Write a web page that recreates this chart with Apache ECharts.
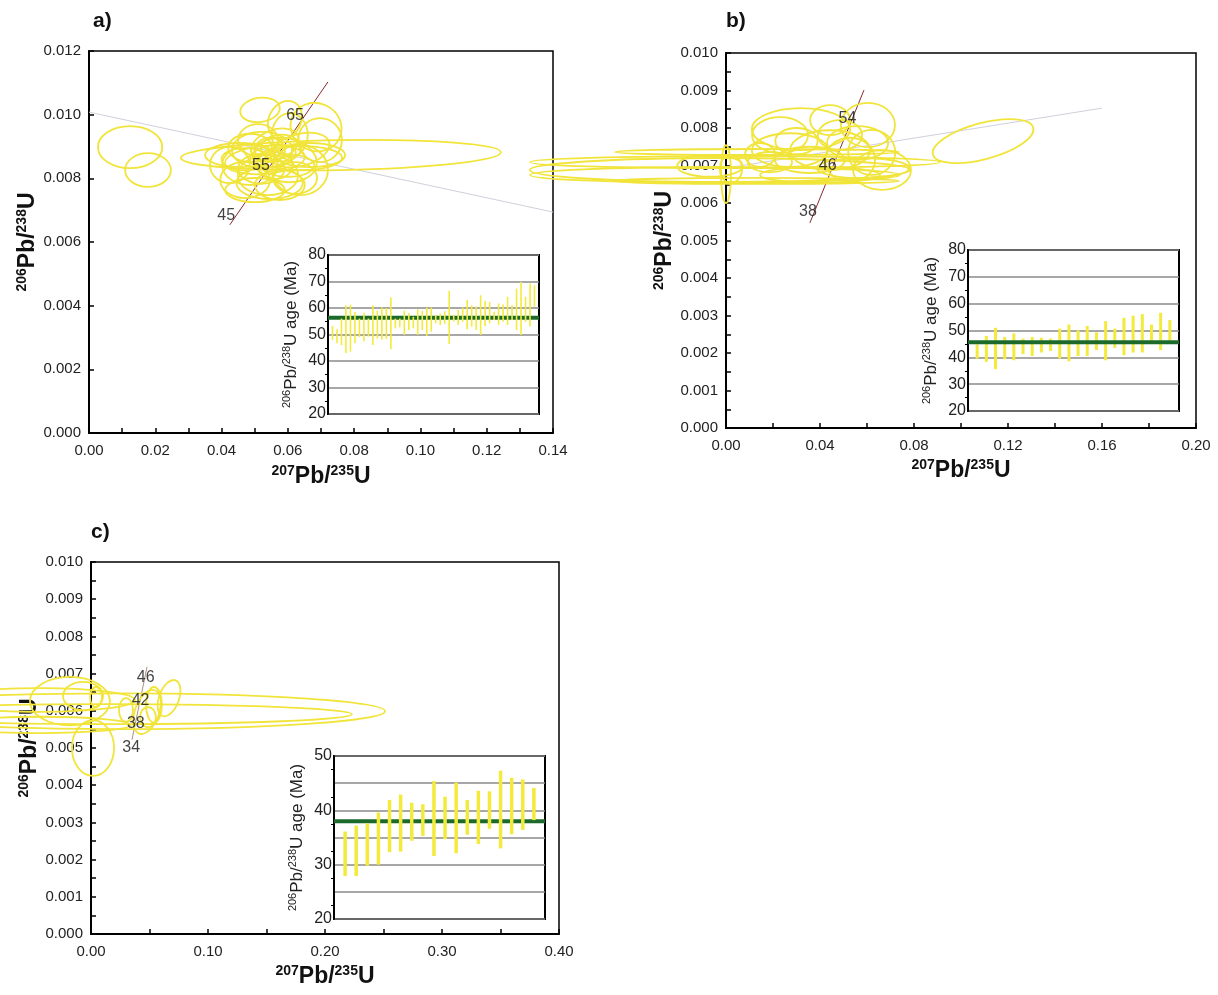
<!DOCTYPE html>
<html><head><meta charset="utf-8">
<script src="https://cdn.jsdelivr.net/npm/echarts@6/dist/echarts.min.js"></script>
<style>html,body{margin:0;padding:0;background:#fff}#c{width:1218px;height:995px}</style>
</head><body><div id="c"></div>
<script>
// ---------- DATA ----------
// ellipses: [x centre (207Pb/235U), y centre (206Pb/238U), x semi-axis, y semi-axis, tilt deg]
const ellipsesA = [
  [0.0124,0.00898,0.0097,0.00066,0],[0.0178,0.00826,0.0069,0.00053,0],
  [0.0760,0.00873,0.0483,0.00047,1],[0.0516,0.01015,0.0060,0.00038,8],
  [0.0685,0.00961,0.0078,0.00075,-25],[0.0522,0.00889,0.0091,0.00057,0],
  [0.0561,0.00905,0.0075,0.00047,20],[0.0486,0.00842,0.0084,0.00063,0],
  [0.0591,0.00858,0.0097,0.00069,-10],[0.0540,0.00810,0.0091,0.00063,0],
  [0.0456,0.00873,0.0106,0.00038,0],[0.0637,0.00889,0.0091,0.00050,15],
  [0.0510,0.00920,0.0060,0.00050,0],[0.0576,0.00779,0.0075,0.00047,0],
  [0.0471,0.00795,0.0075,0.00057,0],[0.0637,0.00826,0.0084,0.00079,0],
  [0.0531,0.00858,0.0121,0.00044,5],[0.0606,0.00936,0.0054,0.00069,0],
  [0.0425,0.00842,0.0060,0.00057,0],[0.0667,0.00873,0.0106,0.00038,0],
  [0.0501,0.00763,0.0090,0.00038,0],[0.0546,0.00889,0.0045,0.00038,0],
  [0.0561,0.00842,0.0054,0.00044,0],[0.0591,0.00983,0.0048,0.00063,-30],
  [0.0697,0.00920,0.0066,0.00069,0],[0.0486,0.00896,0.0066,0.00044,0],
  [0.0622,0.00801,0.0066,0.00050,0],[0.0637,0.00864,0.0127,0.00038,0],
  [0.0555,0.00870,0.0070,0.00035,10],[0.0580,0.00895,0.0060,0.00042,0],
  [0.0520,0.00830,0.0070,0.00047,0],[0.0600,0.00840,0.0080,0.00035,0],
  [0.0545,0.00785,0.0100,0.00050,0],[0.0470,0.00860,0.0070,0.00035,0]
];
const ellipsesB = [
  [0.1094,0.00765,0.0221,0.00048,15],[0.0319,0.00797,0.0209,0.00056,0],
  [0.0230,0.00781,0.0119,0.00048,0],[0.0443,0.00821,0.0085,0.00040,0],
  [0.0604,0.00808,0.0115,0.00059,0],[0.0664,0.00688,0.0123,0.00053,0],
  [0.0583,0.00693,0.0196,0.00027,0],[0.0443,0.00741,0.0170,0.00053,0],
  [0.0272,0.00741,0.0162,0.00045,0],[0.0357,0.00715,0.0149,0.00035,0],
  [0.0145,0.00728,0.0064,0.00032,0],[0.0187,0.00709,0.0094,0.00027,0],
  [0.0528,0.00715,0.0106,0.00059,0],[0.0485,0.00781,0.0094,0.00040,0],
  [0.0400,0.00675,0.0255,0.00021,0],[0.0000,0.00677,0.0021,0.00077,0],
  [0.0021,0.00691,0.0047,0.00037,0],[-0.0068,0.00699,0.0140,0.00029,0],
  [-0.0026,0.00688,0.0809,0.00032,0],[-0.0047,0.00675,0.0787,0.00021,0],
  [0.0038,0.00709,0.0872,0.00016,0],[0.0132,0.00736,0.0604,0.00008,0],
  [0.0132,0.00659,0.0604,0.00008,0],[0.0560,0.00760,0.0130,0.00045,0],
  [0.0300,0.00765,0.0090,0.00035,0],[0.0620,0.00735,0.0100,0.00060,0]
];
const ellipsesC = [
  [0.0248,0.00599,0.2265,0.00048,0],[0.0162,0.00591,0.2068,0.00027,0],
  [-0.0180,0.00626,0.0342,0.00065,0],[-0.0068,0.00640,0.0171,0.00038,0],
  [0.0043,0.00637,0.0051,0.00027,0],[0.0017,0.00500,0.0180,0.00075,0],
  [0.0299,0.00602,0.0060,0.00032,0],[0.0479,0.00597,0.0103,0.00062,-20],
  [0.0538,0.00616,0.0068,0.00048,0],[0.0667,0.00634,0.0085,0.00051,-20],
  [0.0487,0.00583,0.0068,0.00027,0],[-0.0436,0.00629,0.0812,0.00032,0],
  [-0.0436,0.00562,0.0770,0.00022,0]
];
// concordia curves and age labels (Ma)
const concordiaA = [[0.0425,0.00654],[0.0721,0.01103]];
const concordiaB = [[0.0357,0.00547],[0.0587,0.00901]];
const concordiaC = [[0.0350,0.00522],[0.0479,0.00718]];
const ageMarksA = [[0.0456,0.00700,'45'],[0.0561,0.00857,'55'],[0.0664,0.01012,'65']];
const ageMarksB = [[0.0383,0.00593,'38'],[0.0467,0.00716,'46'],[0.0551,0.00840,'54']];
const ageMarksC = [[0.0344,0.00528,'34'],[0.0383,0.00593,'38'],[0.0424,0.00655,'42'],[0.0467,0.00716,'46']];
// regression (discordia) lines
const discordiaA = [[0,0.01008],[0.14,0.00694]];
const discordiaB = [[0,0.00693],[0.16,0.00853]];
// inset ages: lower and upper error-bar ends (Ma), weighted mean
const insetA_lo = [48.0,46.7,46.0,43.0,43.5,46.7,49.0,47.5,49.2,46.0,48.5,48.0,48.3,44.4,52.3,52.7,49.8,51.7,52.3,49.8,51.7,49.4,51.1,54.2,53.6,54.0,46.4,54.9,53.6,54.8,52.0,53.0,51.7,49.8,53.2,54.2,55.4,53.6,54.8,53.6,55.4,51.7,49.8,54.8,53.0,60.5];
const insetA_hi = [53.2,52.0,56.0,61.0,61.3,58.6,56.0,58.2,56.0,61.0,59.0,60.2,60.0,64.0,56.0,56.0,59.0,58.0,56.7,59.5,58.9,60.2,60.2,57.3,57.9,58.8,66.5,57.3,59.2,60.2,63.0,61.0,60.6,64.8,62.6,62.3,58.6,61.7,61.3,64.2,61.0,67.3,69.9,64.2,69.2,68.6];
const meanA = 56.3;
const insetB_lo = [39.5,38.3,35.6,39.3,38.9,41.2,40.5,41.8,42.4,39.5,38.5,40.5,40.5,42.7,38.9,43.5,40.8,41.8,41.8,46.1,42.7,46.0];
const insetB_hi = [44.8,48.0,51.0,47.6,48.9,47.0,47.6,47.3,47.0,50.7,52.2,50.1,51.7,49.3,53.5,50.7,54.7,55.5,56.1,52.2,56.6,53.9];
const meanB = 45.6;
const insetC_lo = [27.9,27.9,29.8,30.0,32.3,32.4,34.4,35.3,31.6,34.7,32.1,35.5,33.8,36.6,33.0,35.6,36.4,38.2];
const insetC_hi = [36.1,37.2,37.6,39.6,41.9,42.9,41.4,41.1,45.4,42.5,45.1,41.9,43.6,43.5,47.3,46.0,45.7,44.1];
const meanC = 38.0;
// axis tick values
const ticksAx = [0,0.02,0.04,0.06,0.08,0.10,0.12,0.14];
const ticksAy = [0,0.002,0.004,0.006,0.008,0.010,0.012];
const ticksBx = [0,0.04,0.08,0.12,0.16,0.20];
const ticksBy = [0,0.001,0.002,0.003,0.004,0.005,0.006,0.007,0.008,0.009,0.010];
const ticksCx = [0,0.10,0.20,0.30,0.40];
const ticksCy = [0,0.001,0.002,0.003,0.004,0.005,0.006,0.007,0.008,0.009,0.010];
const ticksInsetAB = [20,30,40,50,60,70,80];
const ticksInsetC = [20,25,30,35,40,45,50];
const panelTitles = ['a)','b)','c)'];

// ---------- STYLE / BUILD ----------
const FONT = 'Liberation Sans, Arial, Helvetica, sans-serif';
const YELLOW = '#f1e43a';
const BARY = '#f3ea3c';
const GREEN = '#1b6a2c';
const chart = echarts.init(document.getElementById('c'));

const xName = '{sup|207}{b|Pb/}{sup|235}{b|U}';
const yName = '{sup|206}{b|Pb/}{sup|238}{b|U}';
const mainNameStyle = {rich:{
  b:{fontSize:23,fontWeight:'bold',fontFamily:FONT,color:'#111',lineHeight:26},
  sup:{fontSize:14,fontWeight:'bold',fontFamily:FONT,color:'#111',lineHeight:14,verticalAlign:'top'}
}};
const insetName = '{sup|206}{b|Pb/}{sup|238}{b|U age (Ma)}';
const insetNameStyle = {rich:{
  b:{fontSize:17,fontFamily:FONT,color:'#222',lineHeight:20},
  sup:{fontSize:11,fontFamily:FONT,color:'#222',lineHeight:11,verticalAlign:'top'}
}};

const grids = [
  {left:89,top:51,width:464,height:382},
  {left:328,top:255,width:211,height:159},
  {left:726,top:53,width:470,height:375},
  {left:968,top:250,width:211,height:161},
  {left:91,top:562,width:468,height:372},
  {left:334,top:756,width:211,height:163}
].map((g,i)=>Object.assign(g,{show:true,borderColor:'#000',borderWidth:i%2?2:1.5,
  backgroundColor:i%2?'#fff':'transparent',z:i%2?5:0}));

function mainX(gi,ticks,dec,minor,gap){
  return {type:'value',gridIndex:gi,min:ticks[0],max:ticks[ticks.length-1],interval:ticks[1]-ticks[0],
    name:xName,nameLocation:'middle',nameGap:gap,nameTextStyle:mainNameStyle,
    axisLine:{show:true,lineStyle:{color:'#000',width:2}},
    axisTick:{show:true,inside:true,length:5,lineStyle:{color:'#000',width:1.5}},
    minorTick:{show:minor,splitNumber:2,length:5,lineStyle:{color:'#000',width:1.5}},
    axisLabel:{fontSize:15,fontFamily:FONT,color:'#222',margin:10,formatter:v=>v.toFixed(dec),showMinLabel:true,showMaxLabel:true},
    splitLine:{show:false}};
}
function mainY(gi,ticks,minor){
  return {type:'value',gridIndex:gi,min:ticks[0],max:ticks[ticks.length-1],interval:ticks[1]-ticks[0],
    name:yName,nameLocation:'middle',nameGap:43,nameTextStyle:mainNameStyle,
    axisLine:{show:true,lineStyle:{color:'#000',width:2}},
    axisTick:{show:true,inside:true,length:5,lineStyle:{color:'#000',width:1.5}},
    minorTick:{show:minor,splitNumber:2,length:5,lineStyle:{color:'#000',width:1.5}},
    axisLabel:{fontSize:15,fontFamily:FONT,color:'#222',margin:8,formatter:v=>v.toFixed(3),showMinLabel:true,showMaxLabel:true},
    splitLine:{show:false}};
}
function insetX(gi,n){
  return {type:'value',gridIndex:gi,min:0,max:n+1,show:false,splitLine:{show:false}};
}
function insetY(gi,ticks,every){
  return {type:'value',gridIndex:gi,min:ticks[0],max:ticks[ticks.length-1],interval:ticks[1]-ticks[0],
    name:insetName,nameLocation:'middle',nameGap:27,nameTextStyle:insetNameStyle,
    axisLine:{show:true,lineStyle:{color:'#000',width:2}},
    axisTick:{show:false},
    minorTick:{show:true,splitNumber:2,length:3,lineStyle:{color:'#000',width:1}},
    axisLabel:{fontSize:16,fontFamily:FONT,color:'#222',margin:2,formatter:v=>(v%every===0?String(v):''),showMinLabel:true,showMaxLabel:true},
    splitLine:{show:true,lineStyle:{color:'#8a8a8a',width:1.5}},
    z:6};
}

function ellipseSeries(gi,data){
  return {type:'custom',xAxisIndex:gi,yAxisIndex:gi,data:data,clip:false,z:3,silent:true,
    renderItem:function(params,api){
      const c = api.coord([api.value(0),api.value(1)]);
      const s = api.size([api.value(2),api.value(3)]);
      return {type:'ellipse',x:c[0],y:c[1],rotation:api.value(4)*Math.PI/180,
        shape:{cx:0,cy:0,rx:Math.abs(s[0]),ry:Math.abs(s[1])},
        style:{fill:'none',stroke:YELLOW,lineWidth:1.8}};
    }};
}
function lineSeries(gi,data,color,w,z){
  return {type:'line',xAxisIndex:gi,yAxisIndex:gi,data:data,showSymbol:false,symbol:'none',silent:true,
    lineStyle:{color:color,width:w},z:z,clip:false};
}
function labelSeries(gi,data,offset){
  return {type:'scatter',xAxisIndex:gi,yAxisIndex:gi,data:data,symbolSize:0,silent:true,z:6,
    label:{show:true,position:'inside',offset:offset,formatter:p=>p.data[2],fontSize:16,fontFamily:FONT,color:'#111'}};
}
function barSeries(gi,lo,hi,w,z){
  return {type:'custom',xAxisIndex:gi,yAxisIndex:gi,z:z,silent:true,
    data:lo.map((v,i)=>[i+1,v,hi[i]]),
    renderItem:function(params,api){
      const t = api.coord([api.value(0),api.value(2)]);
      const b = api.coord([api.value(0),api.value(1)]);
      return {type:'rect',shape:{x:t[0]-w/2,y:t[1],width:w,height:b[1]-t[1]},style:{fill:BARY}};
    }};
}
function meanSeries(gi,n,m,z){
  return {type:'line',xAxisIndex:gi,yAxisIndex:gi,data:[[0,m],[n+1,m]],showSymbol:false,symbol:'none',silent:true,
    lineStyle:{color:GREEN,width:4},z:z};
}

const option = {
  backgroundColor:'#fff',
  animation:false,
  title:[
    {text:panelTitles[0],left:88,top:6,textStyle:{fontSize:21,fontWeight:'bold',fontFamily:FONT,color:'#111'}},
    {text:panelTitles[1],left:721,top:6,textStyle:{fontSize:21,fontWeight:'bold',fontFamily:FONT,color:'#111'}},
    {text:panelTitles[2],left:86,top:517,textStyle:{fontSize:21,fontWeight:'bold',fontFamily:FONT,color:'#111'}}
  ],
  grid:grids,
  xAxis:[
    mainX(0,ticksAx,2,true,31), insetX(1,insetA_lo.length),
    mainX(2,ticksBx,2,true,30), insetX(3,insetB_lo.length),
    mainX(4,ticksCx,2,true,30), insetX(5,insetC_lo.length)
  ],
  yAxis:[
    mainY(0,ticksAy,false), insetY(1,ticksInsetAB,10),
    mainY(2,ticksBy,true), insetY(3,ticksInsetAB,10),
    mainY(4,ticksCy,true), insetY(5,ticksInsetC,10)
  ],
  series:[
    lineSeries(0,discordiaA,'#cfd0dc',1,1),
    lineSeries(0,concordiaA,'#8a2a2a',1,2),
    ellipseSeries(0,ellipsesA),
    labelSeries(0,ageMarksA,[-14,5]),
    lineSeries(2,discordiaB,'#cfd0dc',1,1),
    lineSeries(2,concordiaB,'#8a2a2a',1,2),
    ellipseSeries(2,ellipsesB),
    labelSeries(2,ageMarksB,[-8,6]),
    lineSeries(4,concordiaC,'#b0907e',1,2),
    ellipseSeries(4,ellipsesC),
    labelSeries(4,ageMarksC,[0,10]),
    meanSeries(1,insetA_lo.length,meanA,7), barSeries(1,insetA_lo,insetA_hi,1.6,8),
    barSeries(3,insetB_lo,insetB_hi,3,7), meanSeries(3,insetB_lo.length,meanB,8),
    meanSeries(5,insetC_lo.length,meanC,7), barSeries(5,insetC_lo,insetC_hi,3.5,8)
  ]
};
chart.setOption(option);
</script></body></html>
